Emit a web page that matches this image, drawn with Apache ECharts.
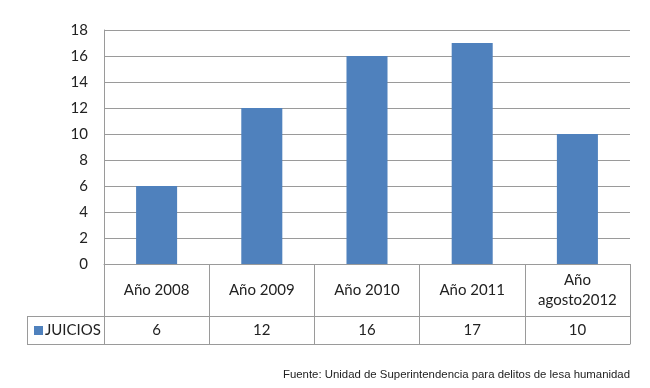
<!DOCTYPE html>
<html>
<head>
<meta charset="utf-8">
<script src="https://cdn.jsdelivr.net/npm/echarts@6/dist/echarts.min.js"></script>
<style>html,body{margin:0;padding:0;background:#fff}#c{width:650px;height:388px}</style>
</head>
<body>
<div id="c"></div>
<script>
var categories = ["Año 2008", "Año 2009", "Año 2010", "Año 2011", "Año\nagosto2012"];
var seriesName = "JUICIOS";
var values = [6, 12, 16, 17, 10];
var yTicks = { min: 0, max: 18, interval: 2 };
var sourceText = "Fuente: Unidad de Superintendencia para delitos de lesa humanidad";

var GRID = '#9a9a9a';
var FONT = 'Lato, "Open Sans", sans-serif';
var chart = echarts.init(document.getElementById('c'), null, { renderer: 'canvas' });
chart.setOption({
  animation: false,
  backgroundColor: '#ffffff',
  grid: { left: 104, right: 20, top: 30, bottom: 124 },
  legend: {
    data: [seriesName], left: 34, top: 323, icon: 'rect', itemWidth: 9, itemHeight: 9, itemGap: 2,
    textStyle: { fontFamily: FONT, fontSize: 15, color: '#222', padding: [0, 0, 0, -3] }, padding: 0
  },
  xAxis: [
    {
      type: 'category', data: categories, position: 'bottom',
      axisLine: { show: true, lineStyle: { color: GRID, width: 1 } },
      axisTick: { show: true, length: 80, lineStyle: { color: GRID } },
      axisLabel: { margin: 26, verticalAlign: 'middle', lineHeight: 20, fontFamily: FONT, fontSize: 15, color: '#222', interval: 0 }
    },
    {
      type: 'category', data: values.map(String), position: 'bottom', offset: 52,
      axisLine: { show: true, lineStyle: { color: GRID, width: 1 } },
      axisTick: { show: false },
      axisLabel: { margin: 14, verticalAlign: 'middle', fontFamily: FONT, fontSize: 15, color: '#222', interval: 0 }
    },
    {
      type: 'category', data: categories, position: 'bottom', offset: 80,
      axisLine: { show: true, lineStyle: { color: GRID, width: 1 } },
      axisTick: { show: false }, axisLabel: { show: false }
    }
  ],
  yAxis: {
    type: 'value', min: yTicks.min, max: yTicks.max, interval: yTicks.interval,
    axisLine: { show: true, lineStyle: { color: GRID } },
    axisTick: { show: false },
    splitLine: { lineStyle: { color: GRID, width: 1 } },
    axisLabel: { margin: 16, fontFamily: FONT, fontSize: 15, color: '#222' }
  },
  series: [{
    name: seriesName, type: 'bar', data: values, barWidth: '39%',
    itemStyle: { color: '#4F81BD' }
  }],
  graphic: [
    { type: 'line', shape: { x1: 27, y1: 316.5, x2: 104, y2: 316.5 }, style: { stroke: GRID, lineWidth: 1 } },
    { type: 'line', shape: { x1: 27, y1: 344.5, x2: 104, y2: 344.5 }, style: { stroke: GRID, lineWidth: 1 } },
    { type: 'line', shape: { x1: 27.5, y1: 316, x2: 27.5, y2: 345 }, style: { stroke: GRID, lineWidth: 1 } },
    { type: 'text', right: 20, top: 369, style: { text: sourceText, font: '11.4px "Liberation Sans", Arial, sans-serif', fill: '#222' } }
  ]
});
</script>
</body>
</html>
